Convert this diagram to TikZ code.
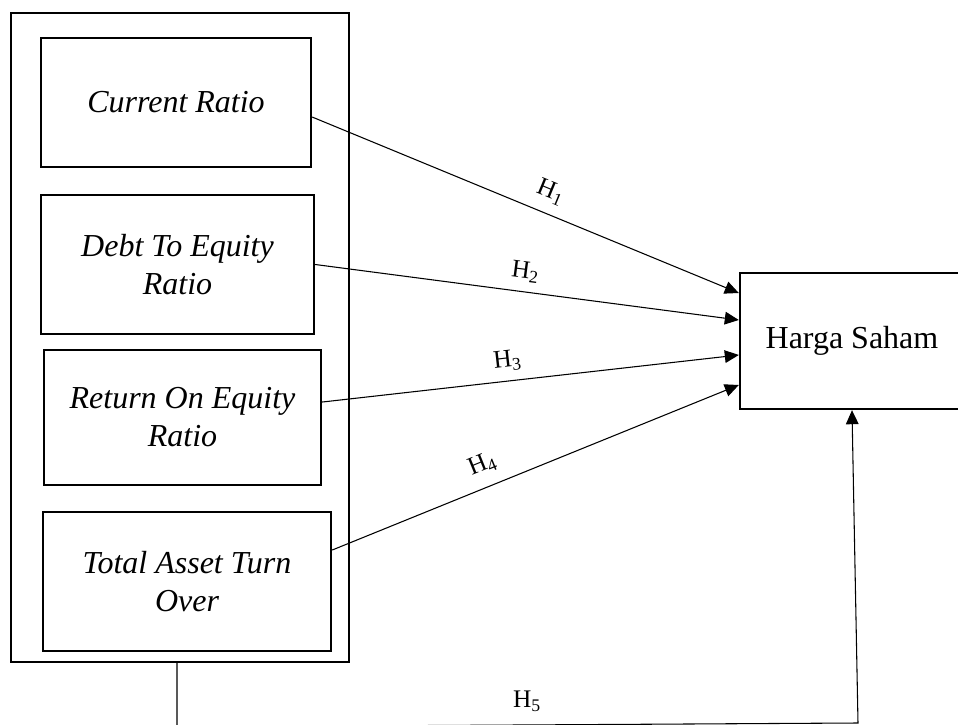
\documentclass[tikz,border=0pt]{standalone}
\usepackage{fontspec}
\setmainfont{Liberation Serif}
\usetikzlibrary{arrows.meta}

\tikzset{
  varbox/.style={draw, line width=1.8pt, align=center, inner sep=0pt,
    font=\fontsize{24}{28.5}\selectfont\itshape},
  hyplabel/.style={font=\fontsize{19}{22}\selectfont, inner sep=1pt},
  link/.style={line width=0.8pt, -{Triangle[length=10.5pt,width=9.5pt]}}
}

\begin{document}
\begin{tikzpicture}[x=0.75pt, y=-0.75pt]
  \useasboundingbox (0,0) rectangle (958,725);
  % frame round the four ratios
  \node[draw, line width=1.8pt, minimum width=253.5pt, minimum height=486.75pt] (frame) at (180,337.5) {};
  \node[varbox, minimum width=202.5pt, minimum height=96.75pt] (cr) at (176,102.5) {Current Ratio};
  \node[varbox, minimum width=204.75pt, minimum height=104.25pt] (der) at (177.5,264.5) {Debt To Equity\\Ratio};
  \node[varbox, minimum width=207.75pt, minimum height=101.25pt] (roe) at (182.5,417.5) {Return On Equity\\Ratio};
  \node[varbox, minimum width=216pt, minimum height=104.25pt] (tato) at (187,581.5) {Total Asset Turn\\Over};
  \node[draw, line width=1.8pt, minimum width=168pt, minimum height=102pt,
        font=\fontsize{24}{28.5}\selectfont] (harga) at (852,341) {Harga Saham};

  % hypotheses
  \draw[link] ([yshift=-10.9pt]cr.east) -- node[hyplabel, pos=0.54, sloped, above=7pt] {H\textsubscript{1}} ([yshift=36pt]harga.west);
  \draw[link] (der.east) -- node[hyplabel, pos=0.49, sloped, above=6pt] {H\textsubscript{2}} ([yshift=15.75pt]harga.west);
  \draw[link] ([yshift=11.6pt]roe.east) -- node[hyplabel, pos=0.45, sloped, above=6pt] {H\textsubscript{3}} ([yshift=-10.5pt]harga.west);
  \draw[link] ([yshift=23.6pt]tato.east) -- node[hyplabel, pos=0.39, sloped, above=8pt] {H\textsubscript{4}} ([yshift=-33pt]harga.west);

  \coordinate (h5a) at (177,727);
  \coordinate (h5b) at (858,723);
  \draw[link] (frame.south -| h5a) -- (h5a) -- (h5b) -- (harga.south);
  \node[hyplabel] (h5) at (527,701) {H\textsubscript{5}};
\end{tikzpicture}
\end{document}
